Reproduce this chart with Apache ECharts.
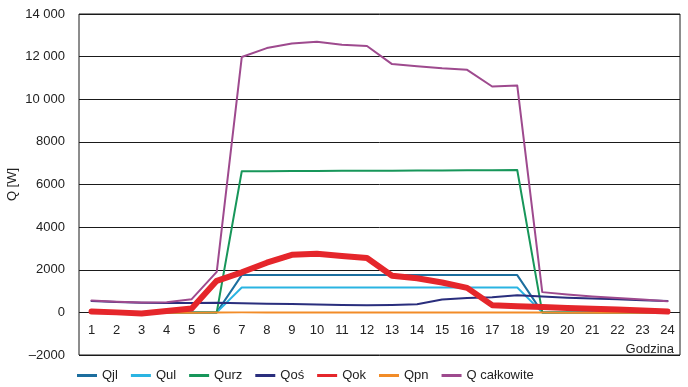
<!DOCTYPE html>
<html>
<head>
<meta charset="utf-8">
<script src="https://cdn.jsdelivr.net/npm/echarts@6/dist/echarts.min.js"></script>
<style>
	html, body { margin: 0; padding: 0; background: #fff; }
	#chart { width: 688px; height: 387px; }
</style>
</head>
<body>
<div id="chart"></div>
<script>
let hours = ["1", "2", "3", "4", "5", "6", "7", "8", "9", "10", "11", "12", "13", "14", "15", "16", "17", "18", "19", "20", "21", "22", "23", "24"];
let qjl = [0, 0, 0, 0, 0, 0, 1750, 1750, 1750, 1750, 1750, 1750, 1750, 1750, 1750, 1750, 1750, 1750, 0, 0, 0, 0, 0, 0];
let qul = [0, 0, 0, 0, 0, 0, 1170, 1170, 1170, 1170, 1170, 1170, 1170, 1170, 1170, 1170, 1170, 1170, 0, 0, 0, 0, 0, 0];
let qurz = [0, 0, 0, 0, 0, 0, 6620, 6625, 6630, 6635, 6640, 6645, 6650, 6655, 6660, 6665, 6670, 6680, 0, 0, 0, 0, 0, 0];
let qos = [530, 490, 455, 440, 440, 450, 430, 400, 390, 370, 350, 340, 350, 380, 600, 680, 710, 800, 740, 690, 650, 610, 570, 530];
let qok = [40, 0, -50, 60, 180, 1480, 1880, 2330, 2700, 2750, 2650, 2550, 1720, 1600, 1400, 1150, 340, 290, 250, 210, 170, 130, 90, 40];
let qpn = [-20, -20, -20, -20, -20, -10, 0, 0, 0, 0, 0, 0, 0, 0, 0, 0, 0, 0, -10, -20, -20, -20, -20, -20];
let qcal = [560, 500, 460, 480, 620, 1900, 11980, 12400, 12620, 12700, 12560, 12500, 11650, 11550, 11450, 11380, 10600, 10650, 950, 840, 750, 680, 600, 520];
let yTicks = { min: -2000, max: 14000, step: 2000 };

let font = "'Liberation Sans', Arial, sans-serif";
let myChart = echarts.init(document.getElementById("chart"));

let fmtY = function (v) {
	if (v < 0) {
		return "\u2013" + Math.abs(v);
	}
	if (v >= 10000) {
		return String(v).replace(/(\d)(?=(\d{3})$)/, "$1 ");
	}
	return String(v);
};

let mkLine = function (name, data, color, width, z) {
	return {
		name: name,
		type: "line",
		data: data,
		showSymbol: false,
		symbol: "none",
		z: z,
		lineStyle: { color: color, width: width, join: "round", cap: "round" },
		itemStyle: { color: color },
	};
};

// grid: 79..680 x 14..355, zero line sits at ~312
let option = {
	animation: false,
	textStyle: { fontFamily: font },
	grid: {
		left: 79,
		right: 8,
		top: 14,
		bottom: 32,
		containLabel: false,
		outerBoundsMode: "none",
		show: true,
		borderColor: "#1a1a1a",
		borderWidth: 1,
	},
	title: {
		text: "Godzina",
		right: 9,
		top: 338,
		textStyle: { fontFamily: font, fontSize: 13, fontWeight: "normal", color: "#222" },
	},
	legend: {
		left: 72,
		top: 364,
		itemWidth: 20,
		itemHeight: 3,
		itemGap: 13,
		icon: "rect",
		textStyle: { fontFamily: font, fontSize: 13, color: "#222" },
		data: ["Qjl", "Qul", "Qurz", "Qoś", "Qok", "Qpn", "Q całkowite"],
	},
	xAxis: {
		type: "category",
		data: hours,
		boundaryGap: true,
		offset: -43,
		axisLine: { show: false, onZero: false },
		axisTick: { show: false },
		axisLabel: { interval: 0, margin: 12, fontSize: 13, color: "#222", fontFamily: font },
	},
	yAxis: {
		type: "value",
		min: yTicks.min,
		max: yTicks.max,
		interval: yTicks.step,
		name: "Q [W]",
		nameLocation: "middle",
		nameGap: 60,
		nameRotate: 90,
		nameMoveOverlap: false,
		nameTextStyle: { fontFamily: font, fontSize: 13, color: "#222" },
		axisLine: { show: false },
		axisTick: { show: false },
		axisLabel: { margin: 14, fontSize: 13, color: "#222", fontFamily: font, formatter: fmtY },
		splitLine: { lineStyle: { color: "#1a1a1a", width: 1 } },
	},
	series: [
		mkLine("Qjl", qjl, "#1C6E9E", 2, 2),
		mkLine("Qul", qul, "#2AB4E2", 2, 2),
		mkLine("Qurz", qurz, "#17965A", 2, 2),
		mkLine("Qoś", qos, "#2A2E7D", 2, 2),
		mkLine("Qpn", qpn, "#F28C28", 2, 2),
		mkLine("Qok", qok, "#E5262B", 6, 4),
		mkLine("Q całkowite", qcal, "#9E4A8E", 2, 3),
	],
};

myChart.setOption(option);
</script>
</body>
</html>
